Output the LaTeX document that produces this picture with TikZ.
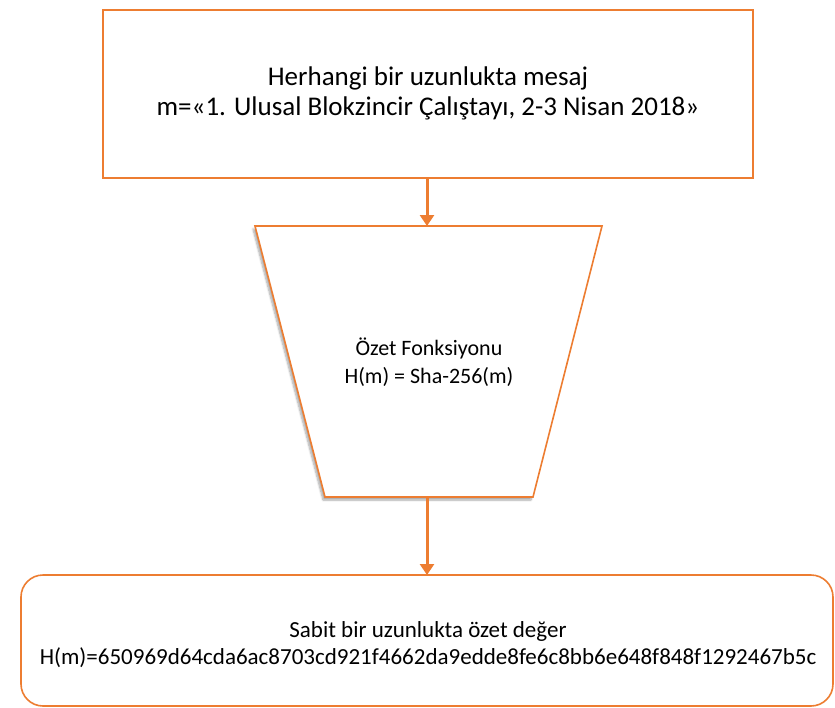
\documentclass[tikz,border=0pt]{standalone}
\usepackage{fontspec}
\setmainfont{Carlito}
\usetikzlibrary{arrows.meta,shadows.blur}
\definecolor{accent}{HTML}{ED7D31}
\begin{document}
\begin{tikzpicture}[x=1pt,y=-1pt,
  box/.style={draw=accent,line width=1.6pt,fill=white},
  flow/.style={draw=accent,line width=3pt,-{Triangle[length=11pt,width=14pt]}},
  label/.style={align=center,text=black,inner sep=0pt}]
\useasboundingbox (0,0) rectangle (835,707);
% input message
\draw[box] (103,10) rectangle (753,178);
\coordinate (msgS) at (427,178);
\node[label,font=\fontsize{27}{30}\selectfont] (msg) at (428,93)
  {Herhangi bir uzunlukta mesaj\\m=«1. Ulusal Blokzincir Çalıştayı, 2-3 Nisan 2018»};
% hash function funnel
\path[box,blur shadow={shadow xshift=-2pt,shadow yshift=-3pt,shadow blur steps=8,shadow opacity=35}]
  (255,226) -- (602,226) -- (533,497) -- (325,497) -- cycle;
\coordinate (hashN) at (427,226);
\coordinate (hashS) at (427,497);
\node[label,font=\fontsize{22}{28}\selectfont] (hash) at (429,362)
  {Özet Fonksiyonu\\H(m) = Sha-256(m)};
% digest
\draw[box,rounded corners=22pt] (21,575) rectangle (833,706);
\coordinate (digN) at (427,575);
\node[label,font=\fontsize{23}{27}\selectfont] (dig) at (428,645)
  {Sabit bir uzunlukta özet değer\\H(m)=650969d64cda6ac8703cd921f4662da9edde8fe6c8bb6e648f848f1292467b5c};
% connectors
\draw[flow] (msgS) -- (hashN);
\draw[flow] (hashS) -- (digN);
\end{tikzpicture}
\end{document}
